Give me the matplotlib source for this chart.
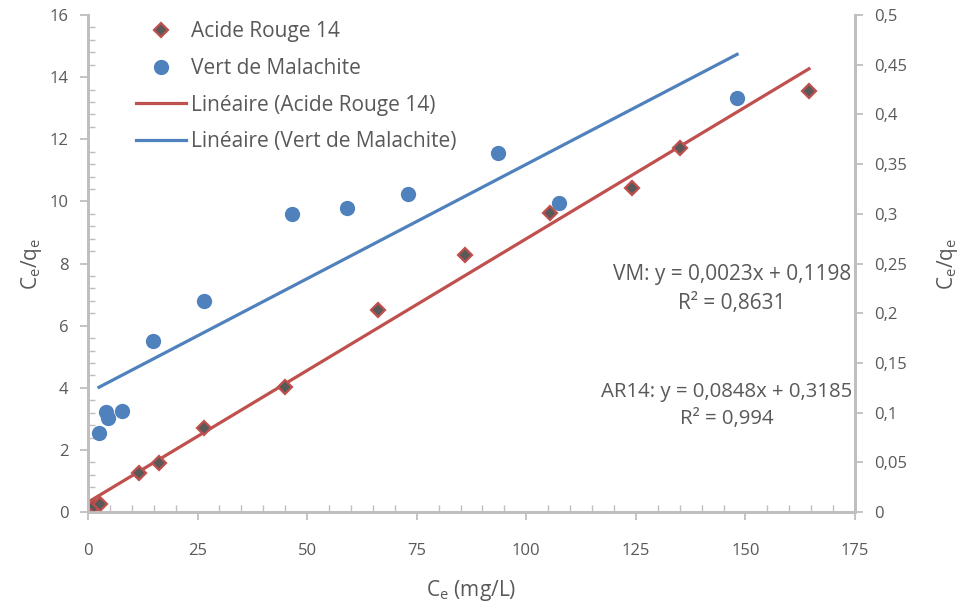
import numpy as np
import matplotlib
matplotlib.use("Agg")
import matplotlib.pyplot as plt
from matplotlib.lines import Line2D
from matplotlib.ticker import MultipleLocator, FixedLocator

plt.rcParams['font.family'] = ['Open Sans', 'DejaVu Sans']
plt.rcParams['mathtext.default'] = 'regular'

# Acide Rouge 14 (axe gauche)
ce_ar14 = [0.3, 1.3, 2.8, 11.6, 16.2, 26.5, 44.9, 66.2, 86.0, 105.4, 124.1, 135.1, 164.5]
cq_ar14 = [0.15, 0.2, 0.27, 1.26, 1.58, 2.70, 4.02, 6.50, 8.27, 9.63, 10.43, 11.72, 13.56]

# Vert de Malachite (axe droit)
ce_vm = [2.5, 4.0, 4.5, 7.7, 14.8, 26.5, 46.5, 59.1, 73.0, 93.5, 107.5, 148.1]
cq_vm = [0.0797, 0.101, 0.0944, 0.1016, 0.172, 0.212, 0.300, 0.306, 0.320, 0.361, 0.311, 0.4166]

# droites de tendance (Excel)
fit_ar14 = (0.0848, 0.3185)
fit_vm = (0.0023, 0.1198)

red = '#C0504D'
blue = '#4F81BD'
grey_txt = '#595959'
grey_ax = '#BFBFBF'

fig = plt.figure(figsize=(9.66, 6.14), dpi=100)
ax = fig.add_axes([0.0911, 0.166, 0.7940, 0.8096])
ax2 = ax.twinx()

# lignes de tendance
x1 = np.array([min(ce_ar14), max(ce_ar14)])
ax.plot(x1, fit_ar14[0] * x1 + fit_ar14[1], color=red, lw=2.3, zorder=2)
ax.plot(ce_ar14, cq_ar14, 'D', ms=7.5, mfc='#595959', mec=red, mew=1.6, zorder=3)

x2 = np.array([min(ce_vm), max(ce_vm)])
ax2.plot(x2, fit_vm[0] * x2 + fit_vm[1], color=blue, lw=2.3, zorder=2)
ax2.plot(ce_vm, cq_vm, 'o', ms=11, mfc=blue, mec=blue, mew=0, zorder=3)

ax.set_xlim(0, 175)
ax.set_ylim(0, 16)
ax2.set_ylim(0, 0.5)

ax.xaxis.set_major_locator(MultipleLocator(25))
ax.xaxis.set_minor_locator(MultipleLocator(5))
ax.yaxis.set_major_locator(MultipleLocator(2))
ax.yaxis.set_minor_locator(MultipleLocator(0.4))

ax.tick_params(axis='both', which='major', direction='out', length=6, width=1.3,
               color=grey_ax, labelcolor=grey_txt, labelsize=12)
ax.tick_params(axis='both', which='minor', direction='in', length=5, width=1.0, color=grey_ax)
ax.tick_params(axis='x', pad=16)
ax.tick_params(axis='y', pad=8)
ax2.tick_params(axis='y', which='major', direction='out', length=6, width=1.3,
                color=grey_ax, labelcolor=grey_txt, labelsize=12, pad=8)

rticks = np.arange(0, 0.5001, 0.05)
ax2.yaxis.set_major_locator(FixedLocator(rticks))
ax2.set_yticklabels([('%g' % round(v, 2)).replace('.', ',') for v in rticks])

for a in (ax, ax2):
    a.spines['top'].set_visible(False)
    for s in ('left', 'right', 'bottom'):
        a.spines[s].set_color(grey_ax)
        a.spines[s].set_linewidth(2)

ax.set_xlabel('C$_e$ (mg/L)', fontsize=15, color=grey_txt, labelpad=14)
ax.set_ylabel('C$_e$/q$_e$', fontsize=15, color=grey_txt, labelpad=4)
ax2.set_ylabel('C$_e$/q$_e$', fontsize=15, color=grey_txt, labelpad=20)

ax.text(146.9, 7.18, 'VM: y = 0,0023x + 0,1198\nR² = 0,8631', ha='center', va='center',
        multialignment='center', fontsize=15, color=grey_txt, linespacing=1.45)
ax.text(145.8, 3.44, 'AR14: y = 0,0848x + 0,3185\nR² = 0,994', ha='center', va='center',
        multialignment='center', fontsize=14.7, color=grey_txt, linespacing=1.45)

handles = [
    Line2D([], [], ls='none', marker='D', ms=7.5, mfc='#595959', mec=red, mew=1.6),
    Line2D([], [], ls='none', marker='o', ms=11, mfc=blue, mec=blue, mew=0),
    Line2D([], [], color=red, lw=2.3),
    Line2D([], [], color=blue, lw=2.3),
]
labels = ['Acide Rouge 14', 'Vert de Malachite', 'Linéaire (Acide Rouge 14)',
          'Linéaire (Vert de Malachite)']
leg = ax2.legend(handles, labels, loc='upper left', bbox_to_anchor=(0.052, 1.004),
                 frameon=False, fontsize=15, handlelength=2.4, handletextpad=0.25,
                 labelspacing=0.75, borderaxespad=0)
for t in leg.get_texts():
    t.set_color(grey_txt)

fig.savefig('out.png', dpi=100)
